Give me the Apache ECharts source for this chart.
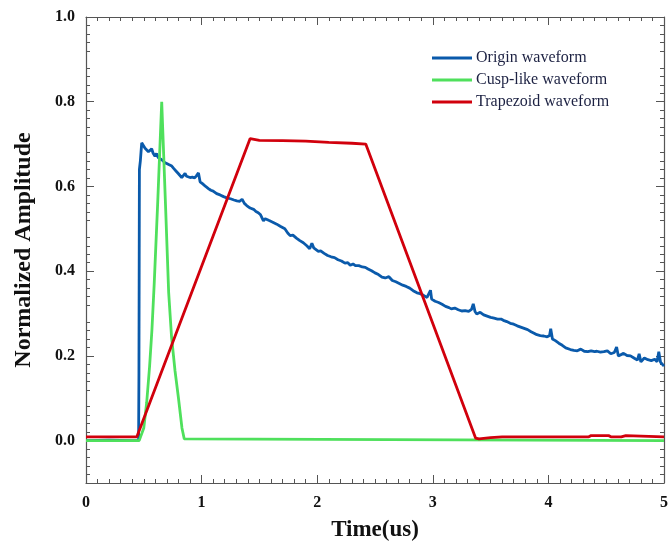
<!DOCTYPE html>
<html>
<head>
<meta charset="utf-8">
<script src="https://cdn.jsdelivr.net/npm/echarts@6/dist/echarts.min.js"></script>
<style>html,body{margin:0;padding:0;background:#fff;}#c{width:670px;height:543px;}</style>
</head>
<body>
<div id="c"></div>
<script>
// ---- data (time in us, normalized amplitude) ----
var seriesNames = ['Origin waveform', 'Cusp-like waveform', 'Trapezoid waveform'];
var xTickLabels = ['0', '1', '2', '3', '4', '5'];
var yTickValues = [0, 0.2, 0.4, 0.6, 0.8, 1.0];

var originWave = [
[0,0.0],[0.2,0.001],[0.4,0.0],[0.455,0.0],[0.458,0.16],[0.462,0.64],[0.47,0.66],[0.482,0.703],[0.50,0.695],[0.511,0.69],[0.525,0.686],[0.54,0.682],[0.555,0.684],[0.568,0.689],[0.58,0.679],[0.597,0.671],[0.61,0.678],[0.625,0.668],[0.64,0.666],[0.655,0.663],[0.67,0.66],[0.684,0.656],[0.70,0.653],[0.72,0.651],[0.742,0.648],[0.76,0.642],[0.78,0.636],[0.80,0.630],[0.815,0.628],[0.828,0.621],[0.845,0.624],[0.857,0.631],[0.87,0.624],[0.885,0.62],[0.9,0.621],[0.92,0.622],[0.94,0.62],[0.955,0.625],[0.973,0.632],[0.987,0.611],[1.01,0.606],[1.035,0.6],[1.059,0.595],[1.08,0.591],[1.10,0.589],[1.13,0.583],[1.16,0.58],[1.19,0.576],[1.218,0.573],[1.25,0.571],[1.28,0.568],[1.305,0.566],[1.33,0.565],[1.35,0.57],[1.37,0.56],[1.39,0.555],[1.42,0.549],[1.45,0.546],[1.47,0.541],[1.49,0.538],[1.51,0.533],[1.525,0.53],[1.535,0.519],[1.55,0.524],[1.58,0.52],[1.62,0.515],[1.65,0.511],[1.68,0.506],[1.72,0.500],[1.745,0.49],[1.766,0.484],[1.79,0.485],[1.82,0.478],[1.85,0.472],[1.88,0.467],[1.91,0.46],[1.935,0.453],[1.954,0.466],[1.97,0.455],[1.99,0.451],[2.01,0.447],[2.03,0.448],[2.06,0.442],[2.09,0.437],[2.12,0.434],[2.15,0.432],[2.18,0.427],[2.21,0.424],[2.24,0.419],[2.265,0.42],[2.286,0.414],[2.31,0.417],[2.33,0.413],[2.36,0.413],[2.39,0.41],[2.416,0.409],[2.44,0.405],[2.47,0.401],[2.50,0.396],[2.53,0.392],[2.56,0.386],[2.589,0.384],[2.62,0.387],[2.65,0.378],[2.68,0.375],[2.71,0.371],[2.74,0.367],[2.77,0.364],[2.80,0.36],[2.83,0.354],[2.863,0.349],[2.89,0.347],[2.92,0.343],[2.95,0.338],[2.965,0.342],[2.98,0.355],[2.99,0.334],[3.02,0.329],[3.05,0.326],[3.08,0.322],[3.11,0.317],[3.14,0.314],[3.16,0.311],[3.19,0.313],[3.22,0.309],[3.25,0.306],[3.28,0.307],[3.31,0.305],[3.335,0.31],[3.35,0.323],[3.365,0.305],[3.38,0.299],[3.41,0.303],[3.44,0.297],[3.47,0.294],[3.50,0.291],[3.53,0.289],[3.56,0.287],[3.59,0.287],[3.61,0.284],[3.64,0.281],[3.67,0.277],[3.70,0.275],[3.73,0.271],[3.76,0.268],[3.79,0.265],[3.82,0.262],[3.85,0.257],[3.88,0.253],[3.90,0.25],[3.93,0.248],[3.96,0.247],[3.99,0.245],[4.01,0.248],[4.02,0.264],[4.035,0.24],[4.06,0.236],[4.09,0.23],[4.12,0.225],[4.15,0.219],[4.19,0.215],[4.22,0.213],[4.25,0.212],[4.28,0.216],[4.31,0.211],[4.34,0.21],[4.37,0.212],[4.40,0.21],[4.42,0.211],[4.45,0.209],[4.48,0.21],[4.51,0.212],[4.54,0.205],[4.57,0.208],[4.59,0.221],[4.605,0.2],[4.62,0.199],[4.65,0.206],[4.68,0.201],[4.71,0.2],[4.74,0.195],[4.77,0.19],[4.785,0.205],[4.80,0.186],[4.83,0.195],[4.86,0.191],[4.89,0.189],[4.92,0.192],[4.94,0.186],[4.955,0.21],[4.97,0.185],[5.0,0.176]
];

var cuspWave = [
[0,0.0],[0.46,0.0],[0.47,0.002],[0.50,0.03],[0.525,0.09],[0.55,0.175],[0.57,0.26],[0.59,0.37],[0.62,0.56],[0.655,0.80],[0.69,0.54],[0.715,0.35],[0.74,0.245],[0.77,0.165],[0.80,0.10],[0.83,0.03],[0.85,0.004],[0.86,0.0],[5.0,0.0]
];

var trapezoidWave = [
[0,0.009],[0.44,0.009],[1.42,0.713],[1.5,0.709],[1.7,0.708],[1.9,0.707],[2.1,0.704],[2.3,0.702],[2.42,0.70],[3.37,0.006],[3.40,0.004],[3.5,0.007],[3.6,0.009],[4.0,0.009],[4.35,0.009],[4.37,0.012],[4.52,0.012],[4.54,0.009],[4.63,0.009],[4.645,0.012],[4.67,0.012],[4.685,0.009],[5.0,0.009]
];

var colors = ['#0a5aab', '#4fe05c', '#d1000c'];

var serif = '"Liberation Serif", "Times New Roman", serif';
var axisColor = '#555';

function baseX(show) {
  return {
    type: 'value', min: 0, max: 5, interval: 1,
    axisLine: { show: true, onZero: false, lineStyle: { color: axisColor, width: 1.2 } },
    axisTick: { show: true, inside: true, length: 8, lineStyle: { color: axisColor } },
    minorTick: { show: true, splitNumber: 10, length: 4, lineStyle: { color: axisColor } },
    splitLine: { show: false }, minorSplitLine: { show: false },
    axisLabel: show ? {
      show: true, margin: 12, color: '#111', fontFamily: serif, fontWeight: 'bold', fontSize: 16,
      formatter: function (v) { return xTickLabels[Math.round(v)]; }
    } : { show: false }
  };
}
function baseY(show) {
  return {
    type: 'value', min: -0.1, max: 1.0, interval: 0.1,
    axisLine: { show: true, onZero: false, lineStyle: { color: axisColor, width: 1.2 } },
    axisTick: { show: true, inside: true, length: 8, customValues: yTickValues, lineStyle: { color: axisColor } },
    minorTick: { show: true, splitNumber: 5, length: 4, lineStyle: { color: axisColor } },
    splitLine: { show: false }, minorSplitLine: { show: false },
    axisLabel: show ? {
      show: true, margin: 11, color: '#111', fontFamily: serif, fontWeight: 'bold', fontSize: 16,
      customValues: yTickValues,
      formatter: function (v) { return v.toFixed(1); }
    } : { show: false }
  };
}

var xMain = baseX(true);
xMain.position = 'bottom';
xMain.name = 'Time(us)';
xMain.nameLocation = 'middle';
xMain.nameGap = 36;
xMain.nameTextStyle = { fontFamily: serif, fontWeight: 'bold', fontSize: 23, color: '#111' };
var xTop = baseX(false); xTop.position = 'top';

var yMain = baseY(true);
yMain.position = 'left';
yMain.name = 'Normalized Amplitude';
yMain.nameLocation = 'middle';
yMain.nameGap = 50;
yMain.nameTextStyle = { fontFamily: serif, fontWeight: 'bold', fontSize: 24, color: '#111' };
var yRight = baseY(false); yRight.position = 'right';

var datasets = [originWave, cuspWave, trapezoidWave];
var series = seriesNames.map(function (name, i) {
  return {
    name: name, type: 'line', data: datasets[i], xAxisIndex: 0, yAxisIndex: 0,
    symbol: 'none', showSymbol: false, smooth: false,
    lineStyle: { color: colors[i], width: 2.8 },
    itemStyle: { color: colors[i] },
    z: 2 + i
  };
});

var chart = echarts.init(document.getElementById('c'), null, { renderer: 'canvas' });
chart.setOption({
  animation: false,
  backgroundColor: '#fff',
  grid: { left: 86, right: 6, top: 17, bottom: 60, containLabel: false, outerBoundsMode: 'none' },
  legend: {
    orient: 'vertical', left: 432, top: 50, padding: 0,
    icon: 'rect', itemWidth: 40, itemHeight: 3, itemGap: 6,
    data: seriesNames,
    textStyle: { fontFamily: serif, fontSize: 16, lineHeight: 15, color: '#1c2142', padding: [0, 0, 0, -1] }
  },
  xAxis: [xMain, xTop],
  yAxis: [yMain, yRight],
  series: series
});
</script>
</body>
</html>
